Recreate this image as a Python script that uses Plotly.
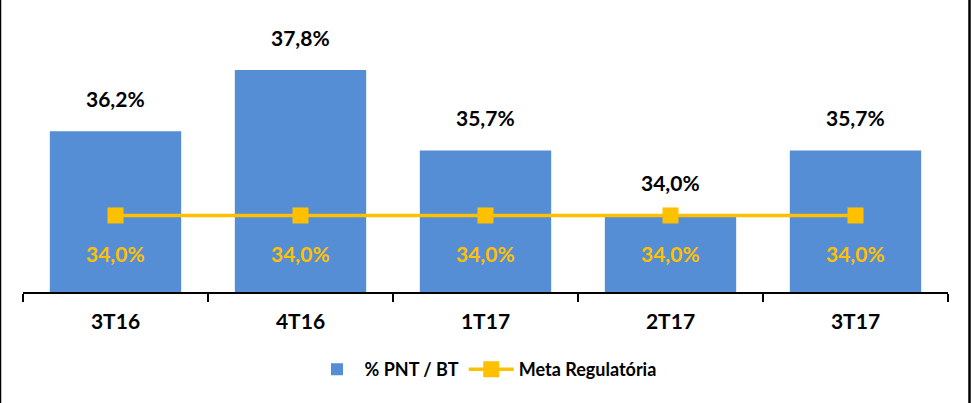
import plotly.graph_objects as go

categories = ["3T16", "4T16", "1T17", "2T17", "3T17"]
pnt_bt = [36.2, 37.8, 35.7, 34.0, 35.7]
meta = [34.0, 34.0, 34.0, 34.0, 34.0]

W, H = 971, 403
ML, MR, MT, MB = 23, 23, 5, 111
plot_w = W - ML - MR

BLUE = "#558ED5"
YELLOW = "#FFC000"
FONT = "Lato"

def fmt(v):
    return f"{v:.1f}".replace(".", ",") + "%"

fig = go.Figure()
fig.add_trace(go.Bar(
    x=categories, y=pnt_bt, name="<b>% PNT / BT</b>",
    marker=dict(color=BLUE, line=dict(width=0)),
    width=0.71,
))
fig.add_trace(go.Scatter(
    x=categories, y=meta, name="<b>Meta Regulatória</b>",
    mode="lines+markers",
    line=dict(color=YELLOW, width=3.5),
    marker=dict(symbol="square", size=16, color=YELLOW),
))

for c, v in zip(categories, pnt_bt):
    fig.add_annotation(x=c, y=v, text=f"<b>{fmt(v)}</b>", showarrow=False,
                       yanchor="bottom", yshift=18,
                       font=dict(family=FONT, size=21, color="black"))
for c, v in zip(categories, meta):
    fig.add_annotation(x=c, y=v, text=f"<b>{fmt(v)}</b>", showarrow=False,
                       yanchor="middle", yshift=-38,
                       font=dict(family=FONT, size=21, color=YELLOW))

# side borders
for xp in (-ML / plot_w, 1 + (MR - 1.5) / plot_w):
    fig.add_shape(type="line", xref="paper", yref="paper",
                  x0=xp, x1=xp, y0=-MB / (H - MT - MB), y1=1 + MT / (H - MT - MB),
                  line=dict(color="black", width=2.5))

fig.update_layout(
    width=W, height=H,
    margin=dict(l=ML, r=MR, t=MT, b=MB),
    paper_bgcolor="white", plot_bgcolor="white",
    bargap=0.29,
    showlegend=True,
    legend=dict(orientation="h", x=0.5, xanchor="center", y=-0.27, yanchor="middle",
                font=dict(family=FONT, size=18, color="black"),
                itemwidth=45, traceorder="normal"),
    font=dict(family=FONT, color="black"),
)
fig.update_xaxes(
    showline=True, linecolor="black", linewidth=1.5,
    ticks="outside", tickson="boundaries", ticklen=8, tickcolor="black", tickwidth=1.5,
    ticklabelstandoff=10,
    tickfont=dict(family=FONT, size=21, color="black", weight="bold"),
    showgrid=False,
)
fig.update_yaxes(range=[32, 39.5], visible=False, showgrid=False)

fig.write_html("out.html")
